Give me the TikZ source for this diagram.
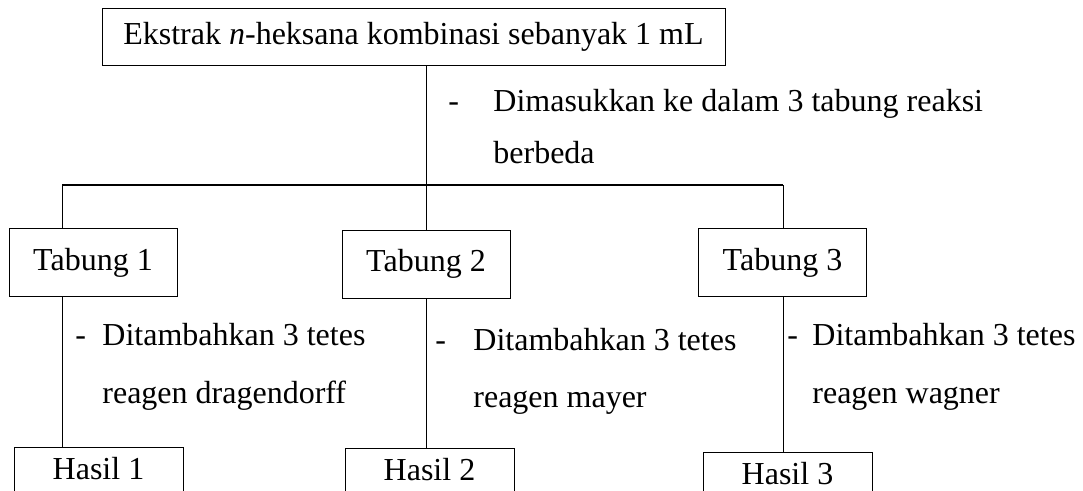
\documentclass[tikz,border=0pt]{standalone}
\usepackage{fontspec}
\setmainfont{Liberation Serif}
\begin{document}
\begin{tikzpicture}[x=0.5pt,y=-0.5pt,
  every node/.style={font=\fontsize{16pt}{18pt}\selectfont, inner sep=0pt},
  box/.style={draw, line width=0.5pt, text height=0.95em, text depth=0.2em},
  tabbox/.style={box, minimum width=84pt, minimum height=34pt},
  resbox/.style={draw, line width=0.5pt, anchor=north, minimum width=84.5pt, text height=16pt, text depth=30pt},
  lbl/.style={anchor=base west},
  conn/.style={line width=0.5pt},
  bus/.style={line width=0.75pt}]
\useasboundingbox (0,0) rectangle (1083,491);
% boxes
\node[box, minimum width=311.5pt, minimum height=28.5pt] (top) at (413.5,37.5) {Ekstrak \textit{n}-heksana kombinasi sebanyak 1 mL};
\node[tabbox] (t1) at (93,263) {Tabung 1};
\node[tabbox] (t2) at (426,264.5) {Tabung 2};
\node[tabbox] (t3) at (782.5,263) {Tabung 3};
\node[resbox] (h1) at (98.5,447) {Hasil 1};
\node[resbox] (h2) at (429.5,448) {Hasil 2};
\node[resbox] (h3) at (787.5,452) {Hasil 3};
% labels
\node[lbl] (d0) at (448,112) {-};
\node[lbl] (a0) at (493,112) {Dimasukkan ke dalam 3 tabung reaksi};
\node[lbl] (b0) at (493,164) {berbeda};
\node[lbl] (d1) at (75,346) {-};
\node[lbl] (a1) at (102,346) {Ditambahkan 3 tetes};
\node[lbl] (b1) at (102,404) {reagen dragendorff};
\node[lbl] (d2) at (435,351) {-};
\node[lbl] (a2) at (473,351) {Ditambahkan 3 tetes};
\node[lbl] (b2) at (473,408) {reagen mayer};
\node[lbl] (d3) at (787,346) {-};
\node[lbl] (a3) at (812,346) {Ditambahkan 3 tetes};
\node[lbl] (b3) at (812,404) {reagen wagner};
% connectors
\coordinate (c0) at (426,185);
\coordinate (cl) at (62,185);
\coordinate (cr) at (783,185);
\draw[conn] (top.south -| c0) -- (c0);
\draw[bus] (cl) -- (cr);
\draw[conn] (cl) -- (t1.north -| cl);
\draw[conn] (c0) -- (t2.north -| c0);
\draw[conn] (cr) -- (t3.north -| cr);
\draw[conn] (t1.south -| cl) -- (h1.north -| cl);
\draw[conn] (t2.south -| c0) -- (h2.north -| c0);
\draw[conn] (t3.south -| cr) -- (h3.north -| cr);
\end{tikzpicture}
\end{document}
